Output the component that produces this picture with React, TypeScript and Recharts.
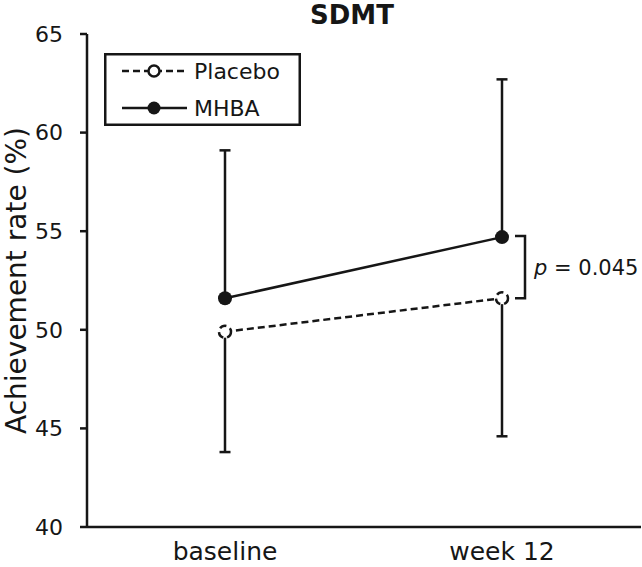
import {
  ErrorBar,
  Label,
  Legend,
  Line,
  LineChart,
  ReferenceLine,
  XAxis,
  YAxis,
} from "recharts";

const visits = ["baseline", "week 12"];
const seriesNames = ["Placebo", "MHBA"];
const placeboMeans = [49.9, 51.6];
const placeboLowerErr = [6.1, 7.0];
const mhbaMeans = [51.6, 54.7];
const mhbaUpperErr = [7.5, 8.0];
const yTicks = [40, 45, 50, 55, 60, 65];
const pValue = "0.045";

const INK = "#161616";
const FONT = "'DejaVu Sans', sans-serif";
const SW = 2.5;

const data = visits.map((visit, i) => ({
  visit,
  placebo: placeboMeans[i],
  placeboErr: [placeboLowerErr[i], 0],
  mhba: mhbaMeans[i],
  mhbaErr: [0, mhbaUpperErr[i]],
}));

function LegendBox() {
  return (
    <svg width={197} height={73} style={{ display: "block" }}>
      <rect x={1.25} y={1.25} width={194.5} height={70.5} fill="#fff" stroke={INK} strokeWidth={SW} />
      <line x1={18} y1={18} x2={83} y2={18} stroke={INK} strokeWidth={SW} strokeDasharray="7 4" />
      <circle cx={50} cy={18} r={5.5} fill="#fff" stroke={INK} strokeWidth={SW} />
      <text x={90} y={26} fontSize={22} fontFamily={FONT} fill={INK}>
        {seriesNames[0]}
      </text>
      <line x1={18} y1={55} x2={83} y2={55} stroke={INK} strokeWidth={SW} />
      <circle cx={50} cy={55} r={6.5} fill={INK} />
      <text x={90} y={63} fontSize={22} fontFamily={FONT} fill={INK}>
        {seriesNames[1]}
      </text>
    </svg>
  );
}

// bracket to the right of week 12 plus the p value
function PBracket(props: any) {
  const { x1, y1, y2 } = props;
  const xs = x1 + 13;
  const xe = x1 + 23;
  const mid = (y1 + y2) / 2;
  return (
    <g>
      <path
        d={`M${xs},${y1 - 1}H${xe}V${y2}H${xs}`}
        fill="none"
        stroke={INK}
        strokeWidth={SW}
      />
      <text x={x1 + 32} y={mid + 7} fontSize={21} fontFamily={FONT} fill={INK}>
        <tspan fontStyle="italic">p</tspan> = {pValue}
      </text>
    </g>
  );
}

function YTitle(props: any) {
  const { viewBox } = props;
  const cy = viewBox.y + viewBox.height / 2;
  return (
    <text
      x={26}
      y={cy}
      transform={`rotate(-90, 26, ${cy})`}
      textAnchor="middle"
      fontSize={28}
      fontFamily={FONT}
      fill={INK}
    >
      Achievement rate (%)
    </text>
  );
}

export default function App() {
  return (
    <div style={{ position: "absolute", left: 0, top: 0, width: 642, height: 567, background: "#fff" }}>
      <svg
        width={642}
        height={40}
        style={{ position: "absolute", left: 0, top: 0, pointerEvents: "none" }}
      >
        <text x={352} y={24} textAnchor="middle" fontSize={26} fontWeight="bold" fontFamily={FONT} fill={INK}>
          SDMT
        </text>
      </svg>
      <LineChart
        width={642}
        height={567}
        data={data}
        margin={{ top: 34, right: 1, bottom: 0, left: 0 }}
      >
        <XAxis
          dataKey="visit"
          height={40}
          padding={{ left: 138, right: 139 }}
          tickLine={false}
          tickSize={0}
          tickMargin={15}
          axisLine={{ stroke: INK, strokeWidth: SW }}
          tick={{ fill: INK, fontSize: 25, fontFamily: FONT }}
        />
        <YAxis
          width={87}
          domain={[40, 65]}
          ticks={yTicks}
          tickSize={7}
          tickMargin={17}
          axisLine={{ stroke: INK, strokeWidth: SW }}
          tickLine={{ stroke: INK, strokeWidth: SW }}
          tick={{ fill: INK, fontSize: 22, fontFamily: FONT }}
        >
          <Label content={<YTitle />} />
        </YAxis>
        <Legend
          layout="horizontal"
          verticalAlign="middle"
          align="center"
          wrapperStyle={{ left: 104, top: 53, width: 197, height: 73 }}
          content={<LegendBox />}
        />
        <Line
          dataKey="placebo"
          name={seriesNames[0]}
          stroke={INK}
          strokeWidth={SW}
          strokeDasharray="7 4"
          dot={{ r: 6, fill: "#fff", stroke: INK, strokeWidth: SW }}
          isAnimationActive={false}
        >
          <ErrorBar dataKey="placeboErr" width={5.5} stroke={INK} strokeWidth={SW} direction="y" />
        </Line>
        <Line
          dataKey="mhba"
          name={seriesNames[1]}
          stroke={INK}
          strokeWidth={SW}
          dot={{ r: 7, fill: INK, stroke: INK, strokeWidth: 0 }}
          isAnimationActive={false}
        >
          <ErrorBar dataKey="mhbaErr" width={5.5} stroke={INK} strokeWidth={SW} direction="y" />
        </Line>
        <ReferenceLine
          segment={[
            { x: visits[1], y: mhbaMeans[1] },
            { x: visits[1], y: placeboMeans[1] },
          ]}
          stroke={INK}
          shape={<PBracket />}
        />
      </LineChart>
    </div>
  );
}
